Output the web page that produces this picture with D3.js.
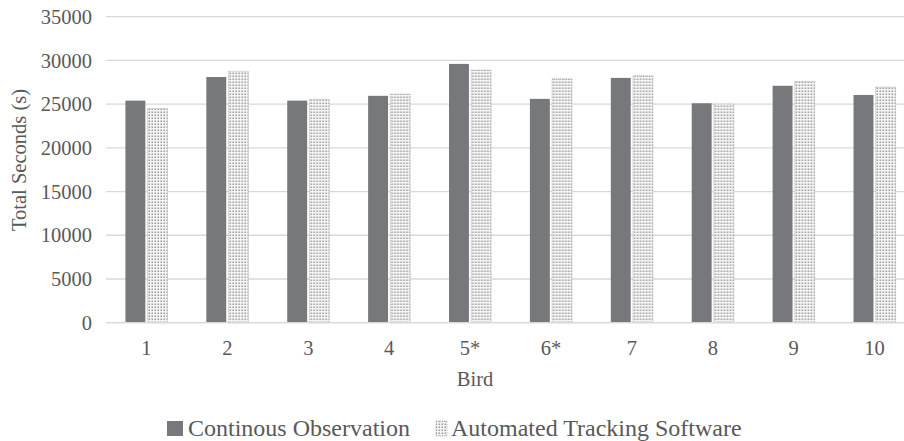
<!DOCTYPE html>
<html>
<head>
<meta charset="utf-8">
<script src="https://cdn.jsdelivr.net/npm/d3@7"></script>
<style>
  html, body { margin: 0; padding: 0; background: #fff; }
  svg { display: block; }
</style>
</head>
<body>
<svg id="chart" width="904" height="441"></svg>
<script>
const birds = ["1", "2", "3", "4", "5*", "6*", "7", "8", "9", "10"];
const seriesNames = ["Continous Observation", "Automated Tracking Software"];
const continuous = [25400, 28100, 25400, 25950, 29600, 25600, 28000, 25100, 27100, 26050];
const automated  = [24500, 28750, 25550, 26150, 28900, 27900, 28250, 25000, 27600, 26950];
const yTicks = [0, 5000, 10000, 15000, 20000, 25000, 30000, 35000];

const FONT = "'Liberation Serif', 'Times New Roman', 'DejaVu Serif', serif";
const TXT = "#595959";

const svg = d3.select("#chart");
const W = 904, H = 441;
const margin = { left: 106, right: -11, top: 16.7, bottom: 441 - 322.7 };

const x = d3.scaleBand().domain(birds).range([margin.left, W - margin.right]);
const xs = d3.scaleBand().domain(seriesNames)
  .range([x.bandwidth() * 0.24, x.bandwidth() * 0.76]).paddingInner(0.1);
const y = d3.scaleLinear().domain([0, 35000]).range([H - margin.bottom, margin.top]);

const defs = svg.append("defs");
const pat = defs.append("pattern").attr("id", "dots")
  .attr("patternUnits", "userSpaceOnUse").attr("width", 3).attr("height", 3);
pat.append("rect").attr("width", 3).attr("height", 3).attr("fill", "#f4f4f4");
pat.append("rect").attr("x", 0.5).attr("y", 0.5).attr("width", 1.5).attr("height", 1.5).attr("fill", "#9c9c9c");

// gridlines
svg.append("g").selectAll("line").data(yTicks).join("line")
  .attr("x1", margin.left).attr("x2", W - margin.right)
  .attr("y1", d => y(d)).attr("y2", d => y(d))
  .attr("stroke", "#d9d9d9").attr("stroke-width", 1.3);

// y tick labels
svg.append("g").selectAll("text").data(yTicks).join("text")
  .attr("x", 92).attr("y", d => y(d)).attr("dy", "0.35em")
  .attr("text-anchor", "end").attr("font-family", FONT).attr("fill", TXT)
  .attr("font-size", 20.5).text(d => d);

const colors = ["#77787c", "url(#dots)"];
const data = [continuous, automated];

const groups = svg.append("g").selectAll("g").data(birds).join("g")
  .attr("transform", d => `translate(${x(d)},0)`);

groups.selectAll("rect").data((d, i) => seriesNames.map((s, k) => ({ s, k, v: data[k][i] })))
  .join("rect")
  .attr("x", d => xs(d.s))
  .attr("width", xs.bandwidth())
  .attr("y", d => y(d.v))
  .attr("height", d => y(0) - y(d.v))
  .attr("fill", d => colors[d.k])
  .attr("stroke", d => d.k === 1 ? "#a6a6a6" : "none")
  .attr("stroke-width", d => d.k === 1 ? 0.8 : 0)
  .attr("stroke-dasharray", "1,1");

// baseline on top
svg.append("line").attr("x1", margin.left).attr("x2", W - margin.right)
  .attr("y1", y(0)).attr("y2", y(0)).attr("stroke", "#d9d9d9").attr("stroke-width", 1.3);

// x tick labels
svg.append("g").selectAll("text").data(birds).join("text")
  .attr("x", d => x(d) + x.bandwidth() / 2).attr("y", 355)
  .attr("text-anchor", "middle").attr("font-family", FONT).attr("fill", TXT)
  .attr("font-size", 20.5).text(d => d);

// axis titles
svg.append("text").attr("x", 475).attr("y", 386).attr("text-anchor", "middle")
  .attr("font-family", FONT).attr("fill", TXT).attr("font-size", 20.5).text("Bird");
svg.append("text").attr("transform", "translate(26,160) rotate(-90)")
  .attr("text-anchor", "middle").attr("font-family", FONT).attr("fill", TXT)
  .attr("font-size", 20.5).text("Total Seconds (s)");

// legend
const legend = svg.append("g").attr("font-family", FONT).attr("fill", TXT);
legend.append("rect").attr("x", 167).attr("y", 421).attr("width", 16).attr("height", 15).attr("fill", colors[0]);
legend.append("text").attr("x", 188).attr("y", 436).attr("font-size", 24).attr("fill", TXT).text(seriesNames[0]);
legend.append("rect").attr("x", 436).attr("y", 421).attr("width", 11).attr("height", 15)
  .attr("fill", colors[1]).attr("stroke", "#a6a6a6").attr("stroke-width", 0.8).attr("stroke-dasharray", "1,1");
legend.append("text").attr("x", 451).attr("y", 436).attr("font-size", 24).attr("fill", TXT).text(seriesNames[1]);
</script>
</body>
</html>
